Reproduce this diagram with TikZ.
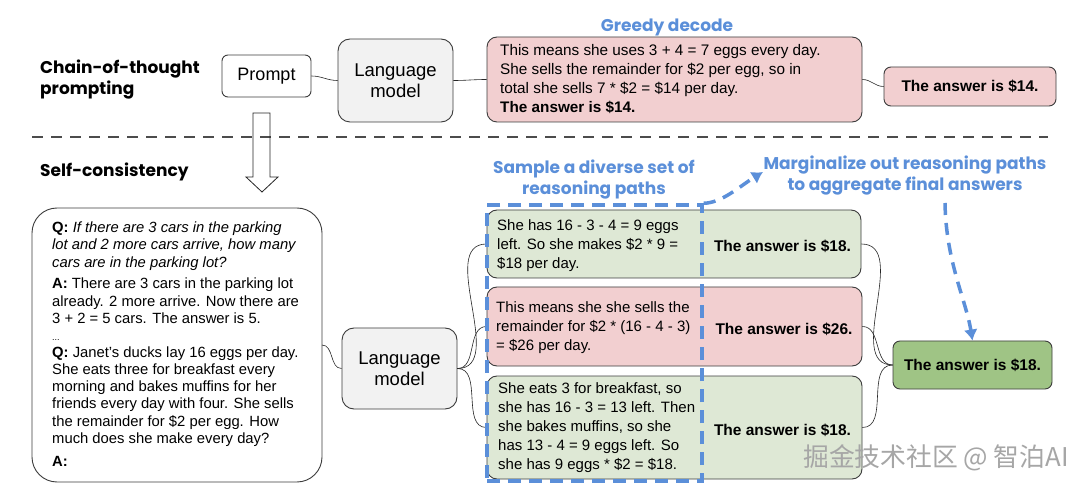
\documentclass[tikz,border=0pt]{standalone}
\usepackage{fontspec}
\setmainfont{Liberation Sans}
\newfontfamily\hfont{Poppins}
\newfontfamily\cjkfont{Noto Sans CJK SC}
\usetikzlibrary{arrows.meta}
\definecolor{pinkfill}{HTML}{F2CFD0}
\definecolor{greenfill}{HTML}{DEE8D5}
\definecolor{finalgreen}{HTML}{9FC485}
\definecolor{lmgray}{HTML}{F2F2F2}
\definecolor{bluelab}{HTML}{5B8FD9}
\definecolor{edgecol}{HTML}{3C3C3C}
\begin{document}
\begin{tikzpicture}[x=1pt,y=-1pt,
  box/.style={draw=edgecol, line width=0.9pt, rounded corners=10pt, inner sep=0pt},
  body/.style={font=\fontsize{15}{19}\selectfont, align=left, inner sep=0pt, anchor=west},
  ans/.style={font=\fontsize{15.5}{18}\selectfont\bfseries, inner sep=0pt},
  lmtext/.style={font=\fontsize{18.5}{21}\selectfont, align=center},
  heading/.style={font=\hfont\bfseries\fontsize{17}{21}\selectfont, align=left, inner sep=0pt, anchor=west},
  bluelabel/.style={font=\hfont\bfseries\fontsize{17}{21}\selectfont, text=bluelab, align=center, inner sep=0pt},
  conn/.style={draw=black!85, line width=0.6pt},
  bluearrow/.style={draw=bluelab, line width=3.5pt, dash pattern=on 12pt off 8pt, -{Latex[length=11pt,width=14pt]}},
  bluedash/.style={draw=bluelab, line width=3.5pt, dash pattern=on 13pt off 8pt}
]
\useasboundingbox (0,0) rectangle (1080,489);
\fill[white] (0,0) rectangle (1080,489);

% ---- top row ----
\node[heading] (cot) at (40,80) {Chain-of-thought\\prompting};
\node[box, fill=white, rounded corners=6pt, minimum width=89pt, minimum height=42pt,
      font=\fontsize{18}{21}\selectfont] (prompt) at (266.5,76) {Prompt};
\node[box, fill=lmgray, rounded corners=12pt, minimum width=115pt, minimum height=83pt, lmtext] (lmtop) at (395.5,80.5) {Language\\model};
\node[bluelabel] (greedylab) at (667,27.5) {Greedy decode};
\node[box, fill=pinkfill, minimum width=375pt, minimum height=85pt] (greedy) at (674.5,79.5) {};
\node[body, font=\fontsize{15.3}{19}\selectfont] (greedytxt) at (500,79.5) {This means she uses 3 + 4 = 7 eggs every day.\\She sells the remainder for \$2 per egg, so in\\total she sells 7 * \$2 = \$14 per day.\\\textbf{The answer is \$14.}};
\node[box, fill=pinkfill, rounded corners=7pt, minimum width=172pt, minimum height=39pt] (ans14) at (970,86.5) {};
\node[ans] (ans14txt) at (970,86.5) {The answer is \$14.};

\draw[conn] (prompt.east) to[out=0,in=180] (lmtop.west);
\draw[conn] (lmtop.east) to[out=0,in=180] (greedy.west);
\draw[conn] (greedy.east) to[out=0,in=180] (ans14.west);

% ---- separator ----
\coordinate (sepL) at (32,137);
\coordinate (sepR) at (1048,137);
\draw[black!70, line width=1.5pt, dash pattern=on 11pt off 8pt] (sepL) -- (sepR);

% ---- hollow arrow ----
\draw[black!85, line width=0.8pt, line join=miter] (253,113) -- (253,177) -- (246,177) -- (262,192) -- (278,177) -- (270,177) -- (270,113) -- cycle;

% ---- bottom ----
\node[heading] (sc) at (40,172) {Self-consistency};

\node[box, fill=white, rounded corners=25pt, minimum width=290pt, minimum height=274pt] (big) at (177,345) {};
\node[font=\fontsize{14.8}{17.3}\selectfont, align=left, inner sep=0pt, anchor=north west] (bigtxt) at (52,221.5) {%
\textbf{Q:} \textit{If there are 3 cars in the parking}\\
\textit{lot and 2 more cars arrive, how many}\\
\textit{cars are in the parking lot?}\\[4.5pt]
\textbf{A:} There are 3 cars in the parking lot\\
already. 2 more arrive. Now there are\\
3 + 2 = 5 cars. The answer is 5.\\[0pt]
{\fontsize{9}{10}\selectfont ...}\\[-1pt]
\textbf{Q:} Janet’s ducks lay 16 eggs per day.\\
She eats three for breakfast every\\
morning and bakes muffins for her\\
friends every day with four. She sells\\
the remainder for \$2 per egg. How\\
much does she make every day?\\[5.5pt]
\textbf{A:}};

\node[box, fill=lmgray, rounded corners=12pt, minimum width=115pt, minimum height=81pt, lmtext] (lmbot) at (399.5,368.5) {Language\\model};

\node[bluelabel] (samplelab) at (594,180) {Sample a diverse set of\\reasoning paths};
\node[bluelabel] (marglab) at (905,175.5) {Marginalize out reasoning paths\\to aggregate final answers};

\node[box, fill=greenfill, minimum width=374pt, minimum height=68pt] (r1) at (674,244) {};
\node[body] (r1txt) at (497,245.5) {She has 16 - 3 - 4 = 9 eggs\\left. So she makes \$2 * 9 =\\\$18 per day.};
\node[ans] (a1) at (782.5,246) {The answer is \$18.};

\node[box, fill=pinkfill, minimum width=375pt, minimum height=79pt] (r2) at (674.5,326.5) {};
\node[body] (r2txt) at (496,327.5) {This means she she sells the\\remainder for \$2 * (16 - 4 - 3)\\= \$26 per day.};
\node[ans] (a2) at (784,329) {The answer is \$26.};

\node[box, fill=greenfill, minimum width=375pt, minimum height=103pt] (r3) at (674.5,427.5) {};
\node[body] (r3txt) at (498,428) {She eats 3 for breakfast, so\\she has 16 - 3 = 13 left. Then\\she bakes muffins, so she\\has 13 - 4 = 9 eggs left. So\\she has 9 eggs * \$2 = \$18.};
\node[ans] (a3) at (782.5,430) {The answer is \$18.};

\node[box, fill=finalgreen, rounded corners=7pt, minimum width=159pt, minimum height=48pt] (final) at (972.5,365) {};
\node[ans] (finaltxt) at (972.5,365) {The answer is \$18.};

\coordinate (bigout) at (322,345);
\draw[conn] (bigout) to[out=0,in=180] (lmbot.west);
\draw[conn] (lmbot.east) to[out=0,in=180] (r1.west);
\draw[conn] (lmbot.east) to[out=0,in=180] (r2.west);
\draw[conn] (lmbot.east) to[out=0,in=180] (r3.west);
\draw[conn] (r1.east) to[out=0,in=180] (final.west);
\draw[conn] (r2.east) to[out=0,in=180] (final.west);
\draw[conn] (r3.east) to[out=0,in=180] (final.west);

% dashed sample frame
\node[bluedash, minimum width=215pt, minimum height=276pt, inner sep=0pt] (sampled) at (594.5,343) {};
\coordinate (margtip) at (763,172);
\draw[bluearrow] (sampled.north east) .. controls (722,203) and (740,186) .. (margtip);
\coordinate (margstart) at (945,203);
\draw[bluearrow] (margstart) .. controls (946,262) and (966,300) .. (final.north);

% watermark
\node[font=\cjkfont\fontsize{25.8}{28}\selectfont, text=black!35, inner sep=0pt] (wm) at (936,458) {掘金技术社区 @ 智泊AI};
\end{tikzpicture}
\end{document}
